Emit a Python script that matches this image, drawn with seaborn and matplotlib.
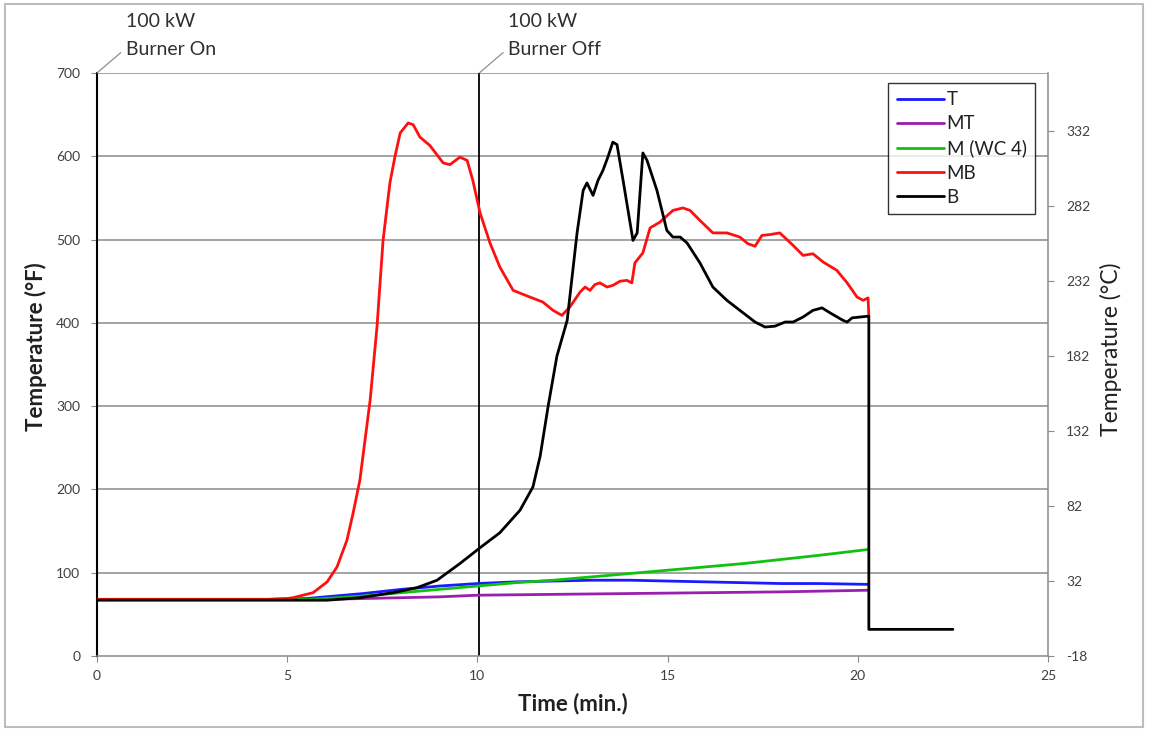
import numpy as np
import pandas as pd
import matplotlib
matplotlib.use("Agg")
import matplotlib.pyplot as plt
from matplotlib.patches import Rectangle
import seaborn as sns

# ---------------- data ----------------
x_ticks = [0, 5, 10, 15, 20, 25]
y_ticks_F = [0, 100, 200, 300, 400, 500, 600, 700]
right_tick_labels = ["-18", "32", "82", "132", "182", "232", "282", "332"]
right_tick_F = [0, 90, 180, 270, 360, 450, 540, 630]

series_names = ["T", "MT", "M (WC 4)", "MB", "B"]
series_colors = ["#1a1aff", "#9b1fae", "#12c012", "#ff1010", "#000000"]

t_T = [0, 4.5, 5.5, 6, 7, 8, 9, 10, 11, 12, 13, 14, 15, 16, 17, 18, 19, 20.29]
v_T = [68, 68, 69, 71, 75, 80, 84, 87, 89, 90, 91, 91, 90, 89, 88, 87, 87, 86]

t_MT = [0, 6, 7, 8, 9, 10, 12, 14, 16, 18, 20.29]
v_MT = [68, 68, 69, 70, 71, 73, 74, 75, 76, 77, 79]

t_M = [0, 5.5, 6, 7, 8, 9, 10, 11, 12, 13, 14, 15, 16, 17, 18, 19, 20.29]
v_M = [68, 68, 69, 72, 76, 80, 84, 88, 91, 95, 99, 103, 107, 111, 116, 121, 128]

t_MB = [0, 4.5, 5.0, 5.15, 5.68, 6.05, 6.31, 6.57, 6.73, 6.91, 7.18, 7.36, 7.52,
        7.70, 7.83, 7.97, 8.18, 8.31, 8.49, 8.75, 9.10, 9.28, 9.54, 9.73, 9.88,
        10.07, 10.33, 10.59, 10.94, 11.38, 11.72, 11.99, 12.22, 12.43, 12.70,
        12.83, 12.96, 13.09, 13.22, 13.41, 13.56, 13.75, 13.93, 14.06, 14.14,
        14.35, 14.54, 14.80, 15.14, 15.40, 15.59, 15.85, 16.19, 16.56, 16.90,
        17.11, 17.30, 17.48, 17.69, 17.95, 18.30, 18.56, 18.82, 19.09, 19.45,
        19.72, 19.98, 20.14, 20.27, 20.29]
v_MB = [68, 68, 69, 70, 76, 89, 107, 139, 171, 211, 307, 395, 499,
        568, 599, 628, 640, 638, 623, 613, 592, 590, 599, 595, 571,
        532, 496, 467, 439, 431, 425, 415, 409, 419, 437,
        443, 439, 446, 448, 443, 445, 450, 451, 448, 472,
        484, 514, 521, 535, 538, 535, 523, 508, 508, 503,
        495, 492, 505, 506, 508, 493, 481, 483, 473, 463,
        448, 431, 427, 430, 408]

t_B = [0, 6.05, 6.91, 7.78, 8.41, 8.94, 9.54, 10.07, 10.59, 11.12, 11.46, 11.65,
       11.86, 12.09, 12.36, 12.62, 12.78, 12.88, 13.04, 13.17, 13.30, 13.43,
       13.56, 13.67, 13.83, 14.09, 14.20, 14.35, 14.46, 14.72, 14.98, 15.14,
       15.33, 15.51, 15.85, 16.19, 16.56, 16.90, 17.30, 17.56, 17.82, 18.09,
       18.30, 18.56, 18.82, 19.06, 19.27, 19.61, 19.72, 19.85, 20.06, 20.27,
       20.29, 20.29, 22.5]
v_B = [67, 67, 70, 76, 82, 91, 111, 130, 148, 175, 203, 240,
       300, 360, 403, 508, 559, 568, 553, 571, 583, 599,
       617, 614, 571, 499, 508, 604, 595, 559, 511, 503,
       503, 496, 472, 443, 427, 415, 401, 395, 396, 401,
       401, 407, 415, 418, 412, 403, 401, 406, 407, 408,
       408, 32, 32]

series_t = [t_T, t_MT, t_M, t_MB, t_B]
series_v = [v_T, v_MT, v_M, v_MB, v_B]

burner_off_t = 10.05
annot_on = "100 kW\nBurner On"
annot_off = "100 kW\nBurner Off"

# ---------------- style ----------------
sns.set_theme(style="white")
plt.rcParams["font.family"] = ["Lato", "DejaVu Sans"]

W, H = 1151, 730
fig = plt.figure(figsize=(W / 100, H / 100), dpi=100)
fig.patch.set_facecolor("white")
ax = fig.add_axes([97 / W, 1 - 656 / H, 951 / W, 583 / H])
ax.set_facecolor("white")

grid_col = "#8a8a8a"
tick_col = "#404040"

for yv in y_ticks_F[1:]:
    ax.axhline(yv, color=grid_col, lw=1.1, zorder=0)

for name, tt, vv, col in zip(series_names, series_t, series_v, series_colors):
    df = pd.DataFrame({"t": tt, "v": vv})
    sns.lineplot(data=df, x="t", y="v", ax=ax, color=col, lw=2.0,
                 sort=False, estimator=None, label=name, zorder=3)

ax.axvline(burner_off_t, color="black", lw=1.3, zorder=2)

ax.set_xlim(0, 25)
ax.set_ylim(0, 700)
ax.set_xticks(x_ticks)
ax.set_yticks(y_ticks_F)
ax.tick_params(axis="both", which="both", direction="out", length=4, width=0.8,
               color=grid_col, labelsize=10, labelcolor=tick_col)
ax.tick_params(axis="x", bottom=True, pad=6)
ax.tick_params(axis="y", left=True, pad=8)

ax.spines["top"].set_visible(False)
ax.spines["left"].set_color("black")
ax.spines["left"].set_linewidth(1.5)
ax.spines["bottom"].set_color(grid_col)
ax.spines["bottom"].set_linewidth(1.1)
ax.spines["right"].set_color(grid_col)
ax.spines["right"].set_linewidth(1.1)

ax.set_xlabel("Time (min.)", fontsize=16, fontweight="bold", color="#202020", labelpad=8)
ax.set_ylabel("Temperature (°F)", fontsize=16, fontweight="bold", color="#202020")
ax.yaxis.set_label_coords(-0.053, 0.53)

sec = ax.secondary_yaxis("right", functions=(lambda f: (f - 32) / 1.8,
                                             lambda c: c * 1.8 + 32))
sec.set_yticks([(f - 32) / 1.8 for f in right_tick_F], right_tick_labels)
sec.tick_params(direction="out", length=4, width=0.8, color=grid_col,
                labelsize=10, labelcolor=tick_col, pad=9)
sec.spines["right"].set_visible(False)
fig.text(1111 / W, 1 - 349 / H, "Temperature (°C)", rotation=90, ha="center",
         va="center", fontsize=16.5, color="#202020")

leg = ax.legend(loc="upper right", bbox_to_anchor=(0.9863, 0.983), borderaxespad=0,
                frameon=True, fancybox=False, edgecolor="black", fontsize=13.5,
                handlelength=2.5, handletextpad=0.15, labelspacing=0.38,
                borderpad=0.45)
leg.get_frame().set_linewidth(1.0)
for txt in leg.get_texts():
    txt.set_color("#202020")

for xv, txt in [(0, annot_on), (burner_off_t, annot_off)]:
    ax.annotate(txt, xy=(xv, 700), xycoords="data",
                xytext=(21, 11), textcoords="offset points",
                ha="left", va="bottom", fontsize=14, color="#303030",
                linespacing=1.75, annotation_clip=False,
                arrowprops=dict(arrowstyle="-", color="#909090", lw=0.9,
                                relpos=(0, 0.22), shrinkA=2, shrinkB=0))

fig.patches.append(Rectangle((5 / W, 3 / H), 1138 / W, 723 / H, transform=fig.transFigure,
                             fill=False, edgecolor="#bdbdbd", lw=1.5))

fig.savefig("out.png", dpi=100)
